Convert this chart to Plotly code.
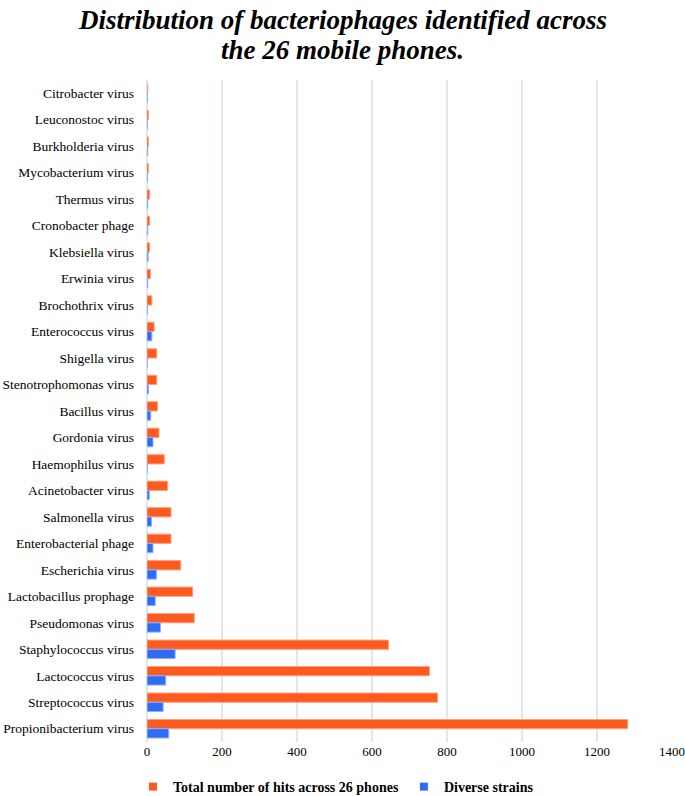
import plotly.graph_objects as go

categories = [
    "Citrobacter virus", "Leuconostoc virus", "Burkholderia virus", "Mycobacterium virus",
    "Thermus virus", "Cronobacter phage", "Klebsiella virus", "Erwinia virus",
    "Brochothrix virus", "Enterococcus virus", "Shigella virus", "Stenotrophomonas virus",
    "Bacillus virus", "Gordonia virus", "Haemophilus virus", "Acinetobacter virus",
    "Salmonella virus", "Enterobacterial phage", "Escherichia virus", "Lactobacillus prophage",
    "Pseudomonas virus", "Staphylococcus virus", "Lactococcus virus", "Streptococcus virus",
    "Propionibacterium virus",
]
total_hits = [2, 4, 4, 4, 7, 7, 7, 9, 13, 19, 26, 26, 28, 32, 46, 55, 64, 64, 90, 122,
              126, 644, 753, 775, 1282]
diverse_strains = [1, 1, 2, 1, 2, 2, 3, 2, 1, 13, 1, 4, 10, 16, 1, 6, 12, 16, 25, 22,
                   36, 75, 50, 43, 58]
x_ticks = [0, 200, 400, 600, 800, 1000, 1200, 1400]
series_names = ["Total number of hits across 26 phones", "Diverse strains"]
colors = ["#FC5A1E", "#2E6CF6"]
edge_colors = ["#FDA07E", "#8FB0FA"]
title_lines = ["Distribution of bacteriophages identified across", "the 26 mobile phones."]

fig = go.Figure()
for name, vals, c, ec in zip(series_names, [total_hits, diverse_strains], colors, edge_colors):
    fig.add_trace(go.Bar(
        y=categories, x=vals, orientation="h", name=name, showlegend=False,
        marker=dict(color=c, line=dict(color=ec, width=1)),
    ))
# legend entries with small square markers
for name, c in zip(series_names, colors):
    fig.add_trace(go.Scatter(
        x=[None], y=[None], mode="markers", name=name,
        marker=dict(symbol="square", size=8, color=c),
    ))

fig.update_layout(
    width=685, height=796,
    barmode="group", bargap=0.3, bargroupgap=0.0,
    plot_bgcolor="white", paper_bgcolor="white",
    margin=dict(l=147, r=13, t=80, b=54, autoexpand=False),
    font=dict(family="Liberation Serif", size=13, color="black"),
    xaxis=dict(
        range=[0, 1400], tickvals=x_ticks, showgrid=True, gridcolor="#DCE9EC", gridwidth=2,
        zeroline=True, zerolinecolor="#DCE9EC", zerolinewidth=2, showline=False,
        tickfont=dict(family="Liberation Serif", size=13, color="black"), ticks="",
        automargin=False,
    ),
    yaxis=dict(
        autorange="reversed", showgrid=False, showline=False, ticks="",
        ticklabelstandoff=12, automargin=False,
        tickfont=dict(family="Liberation Serif", size=13.5, color="black"),
    ),
    legend=dict(
        orientation="h", x=0.36, xanchor="center", y=-0.068, yanchor="middle",
        font=dict(family="Liberation Serif", size=14, color="black", weight="bold"),
        traceorder="normal", tracegroupgap=0,
    ),
    annotations=[
        dict(text=f"<b><i>{title_lines[0]}</i></b>", xref="paper", yref="paper",
             x=0.373, y=1.0906, xanchor="center", yanchor="middle", showarrow=False,
             font=dict(family="Liberation Serif", size=27, color="black")),
        dict(text=f"<b><i>{title_lines[1]}</i></b>", xref="paper", yref="paper",
             x=0.373, y=1.0453, xanchor="center", yanchor="middle", showarrow=False,
             font=dict(family="Liberation Serif", size=27, color="black")),
    ],
)

fig.write_html(
    "out.html",
    config={"displayModeBar": False},
    post_script="document.body.style.margin='0';document.body.style.overflow='hidden';",
)
